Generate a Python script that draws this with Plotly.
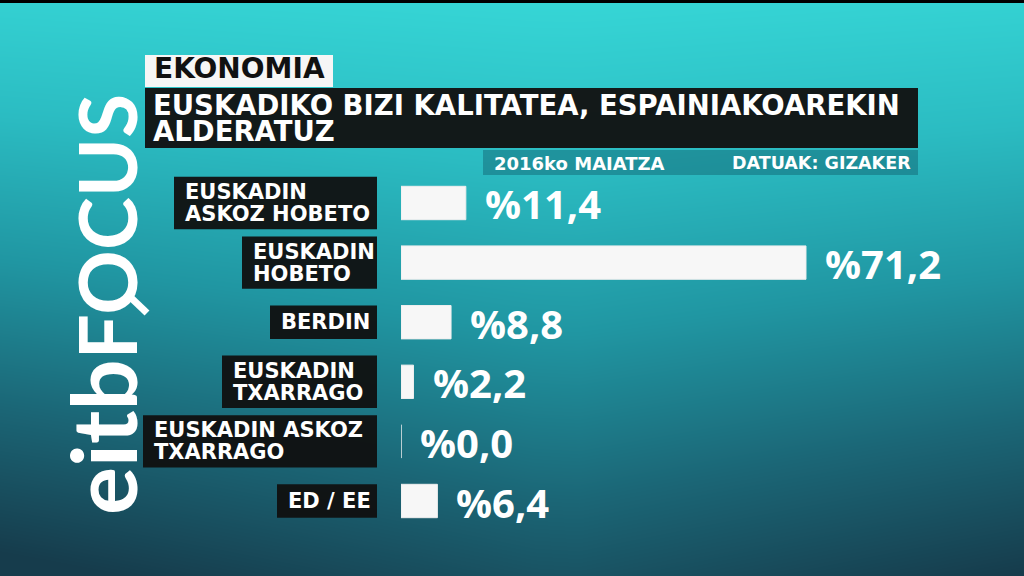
import numpy as np
import plotly.graph_objects as go

# ---------------- data ----------------
categories = ["EUSKADIN ASKOZ HOBETO", "EUSKADIN HOBETO", "BERDIN",
              "EUSKADIN TXARRAGO", "EUSKADIN ASKOZ TXARRAGO", "ED / EE"]
label_lines = [["EUSKADIN", "ASKOZ HOBETO"], ["EUSKADIN", "HOBETO"], ["BERDIN"],
               ["EUSKADIN", "TXARRAGO"], ["EUSKADIN ASKOZ", "TXARRAGO"], ["ED / EE"]]
values = [11.4, 71.2, 8.8, 2.2, 0.0, 6.4]
section = "EKONOMIA"
title_lines = ["EUSKADIKO BIZI KALITATEA, ESPAINIAKOAREKIN", "ALDERATUZ"]
date_text = "2016ko MAIATZA"
source_text = "DATUAK: GIZAKER"
logo_a, logo_b = "eitb", "FOCUS"

# ---------------- layout helpers ----------------
W, H = 1024, 576
def px(x):
    return x / W
def py(y):
    return 1 - y / H

LBL = "DejaVu Sans"
NUM = "Open Sans"
fig = go.Figure()

# background gradient (heatmap on full-canvas axes)
gx = np.linspace(0, 1, 24)
gy = np.linspace(0, 1, 24)
XX, YY = np.meshgrid(gx, gy)
Z = YY * 0.9 + 0.25 * np.abs(XX - 0.55) * (0.4 + YY)
fig.add_trace(go.Heatmap(
    x=gx, y=gy, z=Z, zsmooth="best", showscale=False, hoverinfo="skip",
    colorscale=[[0.0, "#36d6d6"], [0.25, "#2bbcc2"], [0.5, "#2096a2"],
                [0.75, "#1b6676"], [1.0, "#163c4c"]],
    zmin=0, zmax=1.05, xaxis="x", yaxis="y"))

# bars
fig.add_trace(go.Bar(
    x=values, y=categories, orientation="h", xaxis="x2", yaxis="y2",
    marker=dict(color="#f7f7f7", line=dict(color="#eeeeee", width=1)),
    width=0.56, hoverinfo="skip"))

shapes = []
annotations = []

# top black strip
shapes.append(dict(type="rect", xref="paper", yref="paper", x0=0, x1=1,
                   y0=py(3), y1=1, fillcolor="black", line_width=0, layer="above"))
# section box
shapes.append(dict(type="rect", xref="paper", yref="paper", x0=px(145), x1=px(333),
                   y0=py(87), y1=py(55), fillcolor="#f6f6f6", line_width=0, layer="above"))
annotations.append(dict(text=f"<b>{section}</b>", xref="paper", yref="paper",
                        x=px(152), y=py(69), xanchor="left", yanchor="middle", showarrow=False,
                        font=dict(family=LBL, size=28, color="#111111")))
# title box
shapes.append(dict(type="rect", xref="paper", yref="paper", x0=px(145), x1=px(918),
                   y0=py(148), y1=py(88), fillcolor="rgba(18,18,18,0.96)", line_width=0, layer="above"))
for k, line in enumerate(title_lines):
    annotations.append(dict(text=f"<b>{line}</b>", xref="paper", yref="paper",
                            x=px(151), y=py(105 + 26 * k), xanchor="left", yanchor="middle",
                            showarrow=False, font=dict(family=LBL, size=27.5, color="white")))
# subtitle box
shapes.append(dict(type="rect", xref="paper", yref="paper", x0=px(483), x1=px(918),
                   y0=py(175), y1=py(150), fillcolor="rgba(10,70,85,0.35)", line_width=0, layer="above"))
annotations.append(dict(text=f"<b>{date_text}</b>", xref="paper", yref="paper", x=px(492), y=py(163),
                        xanchor="left", yanchor="middle", showarrow=False,
                        font=dict(family=LBL, size=18, color="white")))
annotations.append(dict(text=f"<b>{source_text}</b>", xref="paper", yref="paper", x=px(913), y=py(163),
                        xanchor="right", yanchor="middle", showarrow=False,
                        font=dict(family=LBL, size=17.5, color="white")))

# category label boxes and texts
box_left = [174, 242, 270, 222, 143, 277]
box_right = 377
for i, lines in enumerate(label_lines):
    half = 0.44 if len(lines) == 2 else 0.28
    shapes.append(dict(type="rect", xref="paper", yref="y2", x0=px(box_left[i]), x1=px(box_right),
                       y0=i - half, y1=i + half, fillcolor="rgba(16,16,16,0.95)",
                       line_width=0, layer="above"))
    n = len(lines)
    for k, line in enumerate(lines):
        shift = (k - (n - 1) / 2) * -22
        annotations.append(dict(text=f"<b>{line}</b>", xref="paper", yref="y2",
                                x=px(box_left[i] + 9), y=categories[i], yshift=shift,
                                xanchor="left", yanchor="middle", showarrow=False,
                                font=dict(family=LBL, size=21, color="white")))

# value labels
for c, v in zip(categories, values):
    annotations.append(dict(text="<b>%" + f"{v:.1f}".replace(".", ",") + "</b>",
                            xref="x2", yref="y2", x=v, y=c, xshift=17, yshift=-1,
                            xanchor="left", yanchor="middle", showarrow=False,
                            font=dict(family=NUM, size=40, color="white")))

# vertical logo
annotations.append(dict(
    text=f'<b><span style="font-size:90px">{logo_a}</span><span style="font-size:80px">{logo_b}</span></b>',
    xref="paper", yref="paper", x=px(102), y=py(305), textangle=-90,
    xanchor="center", yanchor="middle", showarrow=False,
    font=dict(family="Lato", size=80, color="white")))
# magnifier handle
shapes.append(dict(type="line", xref="paper", yref="paper", x0=px(126), y0=py(293),
                   x1=px(147), y1=py(313), line=dict(color="white", width=7), layer="above"))

fig.update_layout(
    width=W, height=H, margin=dict(l=0, r=0, t=0, b=0),
    paper_bgcolor="#1f8f9a", plot_bgcolor="rgba(0,0,0,0)",
    showlegend=False, shapes=shapes, annotations=annotations,
    xaxis=dict(domain=[0, 1], range=[0, 1], visible=False, fixedrange=True),
    yaxis=dict(domain=[0, 1], range=[1, 0], visible=False, fixedrange=True),
    xaxis2=dict(domain=[px(401), 1], range=[0, (W - 401) / 5.688], visible=False,
                anchor="y2", fixedrange=True),
    yaxis2=dict(domain=[py(530.8), py(173.2)], range=[5.5, -0.5], type="category",
                categoryorder="array", categoryarray=categories, visible=False,
                anchor="x2", fixedrange=True),
)

fig.write_html("out.html", config={"displayModeBar": False},
               post_script="document.body.style.margin='0px';")
